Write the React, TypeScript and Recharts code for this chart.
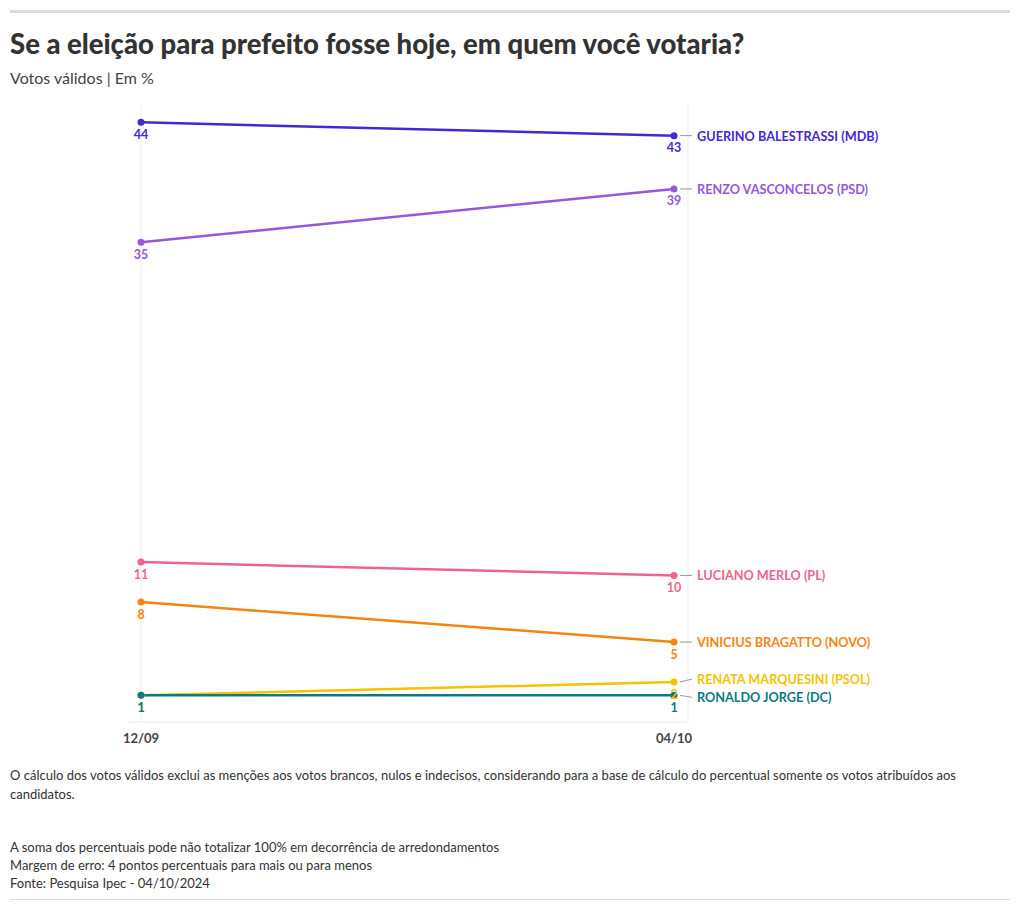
import React from 'react';
import { LineChart, Line, XAxis, YAxis, CartesianGrid } from 'recharts';

const periods = ['12/09', '04/10'];
const guerino = [44, 43];
const renzo = [35, 39];
const luciano = [11, 10];
const vinicius = [8, 5];
const renata = [1, 2];
const ronaldo = [1, 1];

const series = [
  { key: 'guerino', name: 'GUERINO BALESTRASSI (MDB)', values: guerino, color: '#4527d6', dy: 0 },
  { key: 'renzo', name: 'RENZO VASCONCELOS (PSD)', values: renzo, color: '#9657db', dy: 0 },
  { key: 'luciano', name: 'LUCIANO MERLO (PL)', values: luciano, color: '#f0648a', dy: 0 },
  { key: 'vinicius', name: 'VINICIUS BRAGATTO (NOVO)', values: vinicius, color: '#f5850f', dy: 0 },
  { key: 'renata', name: 'RENATA MARQUESINI (PSOL)', values: renata, color: '#f5c300', dy: -3 },
  { key: 'ronaldo', name: 'RONALDO JORGE (DC)', values: ronaldo, color: '#0b7a82', dy: 2 },
];

const data = periods.map((p, i) => {
  const row: any = { period: p };
  series.forEach((s) => {
    row[s.key] = s.values[i];
  });
  return row;
});

const FONT = 'Lato, "Noto Sans", sans-serif';

const makeLabel = (s: typeof series[number]) => (props: any) => {
  const { x, y, index, value } = props;
  const last = index === periods.length - 1;
  return (
    <g>
      <text
        x={x}
        y={y + 12}
        textAnchor="middle"
        dominantBaseline="central"
        fill={s.color}
        fontSize={12.5}
        fontWeight={700}
        fontFamily={FONT}
      >
        {value}
      </text>
      {last && (
        <g>
          <line x1={x + 6} y1={y} x2={x + 18} y2={y + s.dy} stroke="#999" strokeWidth={1} />
          <text
            x={x + 23}
            y={y + s.dy}
            dominantBaseline="central"
            fill={s.color}
            fontSize={12.7}
            fontWeight={700}
            fontFamily={FONT}
          >
            {s.name}
          </text>
        </g>
      )}
    </g>
  );
};

export default function App() {
  return (
    <div style={{ position: 'absolute', top: 0, left: 0, width: 1020, height: 911, fontFamily: FONT, color: '#333', background: '#fff' }}>
      <div style={{ position: 'absolute', top: 10, left: 10, width: 1000, height: 3, background: '#dcdcdc' }} />
      <div style={{ position: 'absolute', top: 27, left: 10, fontSize: 27.5, fontWeight: 900, color: '#333', whiteSpace: 'nowrap' }}>
        Se a eleição para prefeito fosse hoje, em quem você votaria?
      </div>
      <div style={{ position: 'absolute', top: 68, left: 10, fontSize: 16, color: '#444', whiteSpace: 'nowrap' }}>
        Votos válidos | Em %
      </div>
      <div style={{ position: 'absolute', top: 95, left: 0 }}>
        <LineChart width={1020} height={665} data={data} margin={{ top: 10, right: 332, bottom: 8, left: 128 }}>
          <CartesianGrid
            horizontal={false}
            stroke="#ececec"
            verticalCoordinatesGenerator={({ offset }: any) => [offset.left + 13, offset.left + offset.width]}
          />
          <XAxis
            dataKey="period"
            padding={{ left: 13, right: 14 }}
            axisLine={{ stroke: '#e6e6e6' }}
            tickLine={false}
            height={30}
            tick={{ fill: '#444', fontSize: 13, fontWeight: 700, fontFamily: FONT }}
            tickMargin={6}
          />
          <YAxis hide domain={[-1, 45.3]} />
          {series.map((s) => (
            <Line
              key={s.key}
              dataKey={s.key}
              stroke={s.color}
              strokeWidth={2.5}
              dot={{ r: 3.5, fill: s.color, stroke: s.color, strokeWidth: 0 }}
              activeDot={false}
              isAnimationActive={false}
            />
          ))}
          {series.map((s) => (
            <Line
              key={s.key + '-labels'}
              dataKey={s.key}
              stroke="none"
              dot={false}
              activeDot={false}
              isAnimationActive={false}
              label={makeLabel(s)}
            />
          ))}
        </LineChart>
      </div>
      <div style={{ position: 'absolute', top: 766, left: 10, width: 1000, fontSize: 13, lineHeight: '19px', color: '#333' }}>
        O cálculo dos votos válidos exclui as menções aos votos brancos, nulos e indecisos, considerando para a base de cálculo do percentual somente os votos atribuídos aos
        <br />
        candidatos.
      </div>
      <div style={{ position: 'absolute', top: 838, left: 10, width: 1000, fontSize: 13, lineHeight: '18px', color: '#333' }}>
        A soma dos percentuais pode não totalizar 100% em decorrência de arredondamentos
        <br />
        Margem de erro: 4 pontos percentuais para mais ou para menos
        <br />
        Fonte: Pesquisa Ipec - 04/10/2024
      </div>
      <div style={{ position: 'absolute', top: 899, left: 10, width: 1000, height: 1, background: '#dcdcdc' }} />
    </div>
  );
}
